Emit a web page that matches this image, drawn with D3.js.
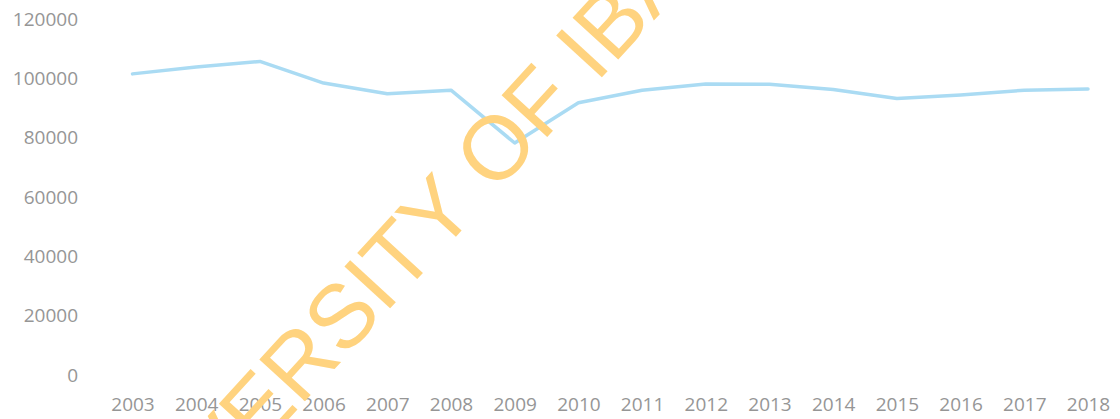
<!DOCTYPE html>
<html>
<head>
<meta charset="utf-8">
<script src="https://cdn.jsdelivr.net/npm/d3@7"></script>
<style>
	body { margin: 0; background: #fff; }
	#chart-area { width: 1120px; height: 419px; }
	.axis text { font-family: "Open Sans", sans-serif; font-size: 19px; fill: #969696; }
</style>
</head>
<body>
<div id="chart-area"></div>
<script>

// values
let years = ["2003", "2004", "2005", "2006", "2007", "2008", "2009", "2010",
	"2011", "2012", "2013", "2014", "2015", "2016", "2017", "2018"];
let values = [101500, 103800, 105700, 98400, 94800, 96000, 78200, 91800,
	96000, 98100, 98000, 96200, 93200, 94400, 96000, 96400];
let yTicks = [0, 20000, 40000, 60000, 80000, 100000, 120000];
let watermark = "UNIVERSITY OF IBADAN";


let width = 1120,
	height = 419;

let svg = d3.select("#chart-area").append("svg")
	.attr("width", width)
	.attr("height", height);

// scales
let x = d3.scalePoint()
	.domain(years)
	.range([132.5, 1088]);

let y = d3.scaleLinear()
	.domain([0, 120000])
	.range([375, 19]);

// y axis labels only, no line / ticks
let yAxis = d3.axisLeft(y)
	.tickValues(yTicks)
	.tickSize(0)
	.tickPadding(0)
	.tickFormat(d3.format("d"));

svg.append("g")
	.attr("class", "y-axis axis")
	.attr("transform", "translate(78,0)")
	.call(yAxis)
	.call(g => g.select(".domain").remove());

let xAxis = d3.axisBottom(x)
	.tickSize(0)
	.tickPadding(0);

svg.append("g")
	.attr("class", "x-axis axis")
	.attr("transform", "translate(0,397)")
	.call(xAxis)
	.call(g => g.select(".domain").remove());

// the line
let line = d3.line()
	.x((d, i) => x(years[i]))
	.y(d => y(d));

svg.append("path")
	.datum(values)
	.attr("d", line)
	.attr("fill", "none")
	.attr("stroke", "#aadbf3")
	.attr("stroke-width", 3.5)
	.attr("stroke-linejoin", "round")
	.attr("stroke-linecap", "round");

// watermark across the chart
svg.append("g")
	.attr("transform", "translate(492,150) rotate(-47.5)")
	.append("text")
	.attr("x", -594)
	.attr("y", 32)
	.attr("font-family", "Liberation Sans, Arial, sans-serif")
	.attr("font-size", 90)
	.attr("fill", "#ffd37f")
	.text(watermark);

</script>
</body>
</html>
